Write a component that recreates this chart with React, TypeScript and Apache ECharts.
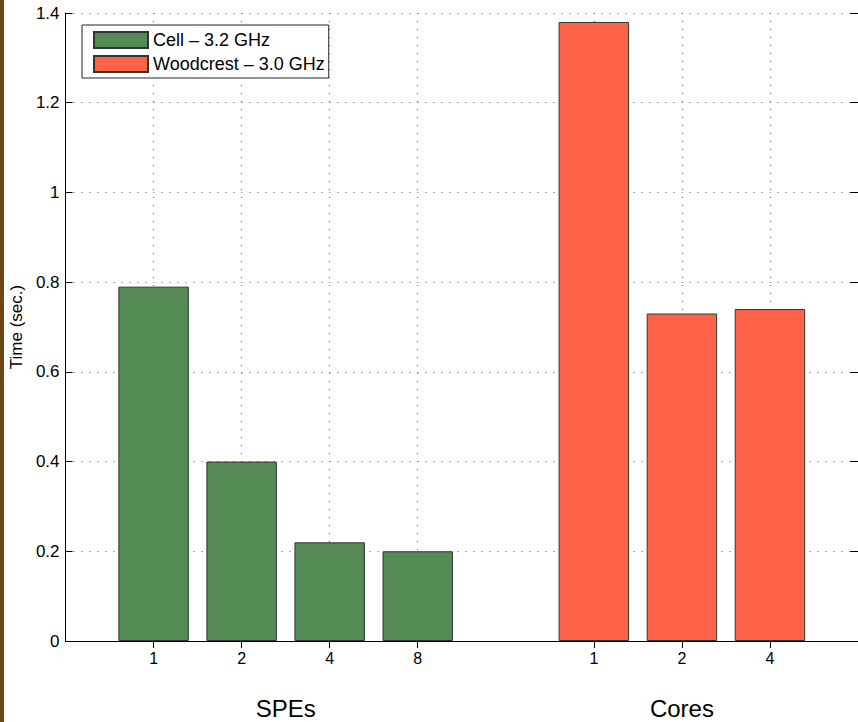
import React, { useEffect, useRef } from 'react';
import * as echarts from 'echarts';

const speCounts = ['1', '2', '4', '8'];
const cellTimes = [0.79, 0.40, 0.22, 0.20];
const coreCounts = ['1', '2', '4'];
const woodcrestTimes = [1.38, 0.73, 0.74];
const seriesNames = ['Cell – 3.2 GHz', 'Woodcrest – 3.0 GHz'];
const groupNames = ['SPEs', 'Cores'];
const yAxisName = 'Time (sec.)';

const FONT = '"Liberation Sans", Arial, Helvetica, sans-serif';

export default function App() {
  const ref = useRef<HTMLDivElement>(null);

  useEffect(() => {
    if (!ref.current) return;
    const chart = echarts.init(ref.current, undefined, { renderer: 'svg' });

    // Positions along the x axis: an empty slot before, between and after the groups
    const tickLabels = ['', ...speCounts, '', ...coreCounts, ''];
    const xKeys = tickLabels.map((l, i) => `k${i}`);
    const speStart = 1;
    const coreStart = speStart + speCounts.length + 1;
    const cellData = tickLabels.map((_, i) =>
      i >= speStart && i < speStart + cellTimes.length ? cellTimes[i - speStart] : null
    );
    const woodData = tickLabels.map((_, i) =>
      i >= coreStart && i < coreStart + woodcrestTimes.length ? woodcrestTimes[i - coreStart] : null
    );
    const showTick = (index: number) => tickLabels[index] !== '';

    const option: any = {
      animation: false,
      backgroundColor: '#ffffff',
      textStyle: { fontFamily: FONT },
      grid: { left: 65, top: 13, right: -3, bottom: 81, containLabel: false },
      legend: {
        orient: 'vertical',
        left: 82,
        top: 25,
        padding: [6, 4, 5, 11],
        itemGap: 6,
        itemWidth: 54,
        itemHeight: 16,
        backgroundColor: '#ffffff',
        borderColor: '#222',
        borderWidth: 1,
        borderRadius: 0,
        icon: 'rect',
        textStyle: { fontSize: 18, color: '#000', fontFamily: FONT },
        data: seriesNames,
      },
      xAxis: [
        {
          type: 'category',
          data: xKeys,
          boundaryGap: false,
          position: 'bottom',
          axisLine: { show: true, lineStyle: { color: '#000', width: 1 } },
          axisTick: { show: true, inside: true, length: 7, interval: (i: number) => showTick(i), lineStyle: { color: '#000' } },
          axisLabel: {
            show: true,
            interval: (i: number) => showTick(i),
            formatter: (_v: string, i: number) => tickLabels[i],
            fontSize: 16,
            color: '#000',
            margin: 9,
            fontFamily: FONT,
          },
          splitLine: {
            show: true,
            interval: (i: number) => showTick(i),
            lineStyle: { color: '#666', width: 1, type: [1, 7] },
          },
        },
        {
          type: 'category',
          data: xKeys,
          boundaryGap: false,
          position: 'top',
          axisLine: { show: true, lineStyle: { color: '#000', width: 1 } },
          axisTick: { show: true, inside: true, length: 7, interval: (i: number) => showTick(i), lineStyle: { color: '#000' } },
          axisLabel: { show: false },
          splitLine: { show: false },
        },
      ],
      yAxis: [
        {
          type: 'value',
          min: 0,
          max: 1.4,
          interval: 0.2,
          position: 'left',
          name: yAxisName,
          nameLocation: 'middle',
          nameGap: 40,
          nameTextStyle: { fontSize: 17, color: '#000', fontFamily: FONT },
          axisLine: { show: true, lineStyle: { color: '#000', width: 1 } },
          axisTick: { show: true, inside: true, length: 7, lineStyle: { color: '#000' } },
          axisLabel: {
            fontSize: 17,
            color: '#000',
            margin: 6,
            fontFamily: FONT,
            formatter: (v: number) => (Math.round(v * 10) / 10).toString(),
          },
          splitLine: { show: true, lineStyle: { color: '#666', width: 1, type: [1, 7] } },
        },
        {
          type: 'value',
          min: 0,
          max: 1.4,
          interval: 0.2,
          position: 'right',
          axisLine: { show: true, lineStyle: { color: '#000', width: 1 } },
          axisTick: { show: true, inside: true, length: 8, lineStyle: { color: '#000' } },
          axisLabel: { show: false },
          splitLine: { show: false },
        },
      ],
      series: [
        {
          name: seriesNames[0],
          type: 'bar',
          xAxisIndex: 0,
          yAxisIndex: 0,
          data: cellData,
          barWidth: '80%',
          barGap: '-100%',
          itemStyle: { color: '#548B54', borderColor: '#333', borderWidth: 1 },
        },
        {
          name: seriesNames[1],
          type: 'bar',
          xAxisIndex: 0,
          yAxisIndex: 0,
          data: woodData,
          barWidth: '80%',
          barGap: '-100%',
          itemStyle: { color: '#FF6347', borderColor: '#333', borderWidth: 1 },
        },
      ],
    };

    chart.setOption(option);

    const px = (i: number) => chart.convertToPixel({ xAxisIndex: 0 }, i) as number;
    const speCenter = (px(speStart) + px(speStart + speCounts.length - 1)) / 2;
    const coreCenter = (px(coreStart) + px(coreStart + coreCounts.length - 1)) / 2;
    const bottomY = chart.convertToPixel({ yAxisIndex: 0 }, 0) as number;

    chart.setOption({
      graphic: [
        {
          type: 'rect',
          left: 0,
          top: 0,
          z: 100,
          shape: { width: 4, height: 722 },
          style: { fill: '#6E4519' },
        },
        {
          type: 'text',
          x: speCenter,
          y: bottomY + 67,
          style: {
            text: groupNames[0],
            fontSize: 24,
            fontFamily: FONT,
            fill: '#000',
            textAlign: 'center',
            textVerticalAlign: 'middle',
          },
        },
        {
          type: 'text',
          x: coreCenter,
          y: bottomY + 67,
          style: {
            text: groupNames[1],
            fontSize: 24,
            fontFamily: FONT,
            fill: '#000',
            textAlign: 'center',
            textVerticalAlign: 'middle',
          },
        },
      ],
    });

    return () => chart.dispose();
  }, []);

  return (
    <div
      ref={ref}
      style={{ position: 'fixed', left: 0, top: 0, width: 858, height: 722, overflow: 'hidden' }}
    />
  );
}
